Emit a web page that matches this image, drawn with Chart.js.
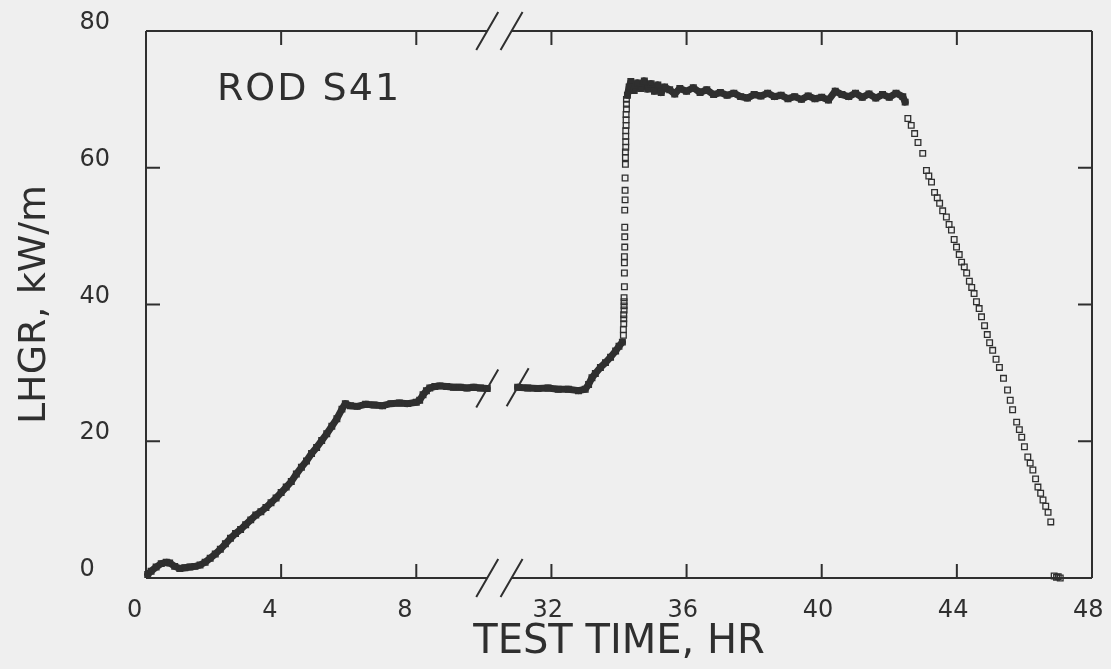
<!DOCTYPE html>
<html>
<head>
<meta charset="utf-8">
<title>ROD S41 - LHGR vs test time</title>
<script src="https://cdn.jsdelivr.net/npm/chart.js@4.4.1/dist/chart.umd.min.js"></script>
<style>
  html, body { margin: 0; padding: 0; background: #efefef; }
  #wrap { width: 1111px; height: 669px; }
</style>
</head>
<body>
<div id="wrap"><canvas id="chart"></canvas></div>
<script>
// Test time (hr) and LHGR (kW/m), segment by segment

// start-up ramp and first hold (before the axis break)
const hrRamp = [0.05, 0.15, 0.3, 0.45, 0.6, 0.7, 0.85, 1.0, 1.15, 1.3, 1.45, 1.6, 1.75, 1.9, 2.05, 2.2, 2.35, 2.5, 2.65, 2.8,
  2.95, 3.1, 3.25, 3.4, 3.55, 3.7, 3.85, 4.0, 4.15, 4.3, 4.45, 4.6, 4.75, 4.9, 5.05, 5.2, 5.35, 5.5, 5.65, 5.8,
  5.9, 6.05, 6.25, 6.5, 6.75, 7.0, 7.25, 7.5, 7.75, 8.0, 8.1, 8.2, 8.3, 8.4, 8.55, 8.7, 8.9, 9.1, 9.3, 9.5,
  9.7, 9.9, 10.1];
const lhgrRamp = [0.5, 1.0, 1.6, 2.1, 2.3, 2.2, 1.7, 1.4, 1.5, 1.6, 1.7, 1.9, 2.3, 2.9, 3.5, 4.2, 5.0, 5.8, 6.5, 7.1,
  7.8, 8.5, 9.2, 9.7, 10.3, 11.0, 11.7, 12.5, 13.3, 14.1, 15.2, 16.2, 17.1, 18.2, 19.1, 20.1, 21.1, 22.2, 23.3, 24.7,
  25.5, 25.2, 25.1, 25.4, 25.3, 25.2, 25.5, 25.6, 25.5, 25.7, 26.0, 26.8, 27.4, 27.8, 28.0, 28.1, 28.0, 27.9, 27.9, 27.8,
  27.9, 27.8, 27.7];

// hold after the break and slow climb
const hrHold = [31.0, 31.3, 31.6, 31.9, 32.2, 32.5, 32.8, 33.0, 33.1, 33.2, 33.3, 33.45, 33.6, 33.75, 33.9, 34.0, 34.1];
const lhgrHold = [27.9, 27.8, 27.7, 27.8, 27.6, 27.6, 27.4, 27.6, 28.3, 29.3, 29.9, 30.8, 31.5, 32.3, 33.2, 33.9, 34.5];

// fast power step
const hrStep = [34.13, 34.13, 34.14, 34.14, 34.14, 34.15, 34.15, 34.15, 34.15, 34.16, 34.16, 34.16, 34.16, 34.17, 34.17, 34.17,
  34.17, 34.18, 34.18, 34.18, 34.19, 34.19, 34.19, 34.2, 34.2, 34.2, 34.2, 34.21, 34.21, 34.21, 34.22, 34.22, 34.22];
const lhgrStep = [35.5, 36.3, 37.2, 37.9, 38.5, 39.2, 39.8, 40.4, 41.0, 42.6, 44.6, 46.1, 47.0, 48.4, 49.9, 51.3,
  53.8, 55.3, 56.7, 58.5, 60.5, 61.5, 62.3, 63.0, 63.8, 64.6, 65.4, 66.2, 67.0, 67.8, 68.6, 69.3, 70.0];

// peak power hold
const hrPeak = [34.25, 34.3, 34.35, 34.45, 34.55, 34.65, 34.75, 34.85, 34.95, 35.05, 35.15, 35.25, 35.35, 35.5, 35.65, 35.8,
  36.0, 36.2, 36.4, 36.6, 36.8, 37.0, 37.2, 37.4, 37.6, 37.8, 38.0, 38.2, 38.4, 38.6, 38.8, 39.0, 39.2, 39.4,
  39.6, 39.8, 40.0, 40.2, 40.4, 40.6, 40.8, 41.0, 41.2, 41.4, 41.6, 41.8, 42.0, 42.2, 42.4, 42.47];
const lhgrPeak = [70.6, 71.8, 72.6, 71.3, 72.4, 71.6, 72.7, 71.5, 72.3, 71.2, 72.1, 71.0, 71.8, 71.4, 70.8, 71.6,
  71.2, 71.7, 71.0, 71.4, 70.7, 71.0, 70.6, 70.9, 70.4, 70.2, 70.7, 70.5, 70.9, 70.4, 70.6, 70.1, 70.4, 70.0,
  70.5, 70.1, 70.3, 69.9, 71.2, 70.7, 70.4, 70.9, 70.3, 70.8, 70.2, 70.7, 70.3, 70.9, 70.4, 69.6];

// power reduction
const hrDown = [42.55, 42.65, 42.75, 42.85, 42.99, 43.1, 43.17, 43.25, 43.34, 43.42, 43.49, 43.58, 43.69, 43.77, 43.84, 43.92,
  43.99, 44.07, 44.14, 44.22, 44.29, 44.37, 44.44, 44.51, 44.58, 44.66, 44.73, 44.82, 44.9, 44.97, 45.06, 45.16,
  45.26, 45.38, 45.5, 45.58, 45.65, 45.77, 45.85, 45.92, 46.0, 46.1, 46.17, 46.25, 46.33, 46.4, 46.48, 46.55,
  46.63, 46.7, 46.78];
const lhgrDown = [67.2, 66.2, 65.0, 63.7, 62.1, 59.6, 58.8, 57.9, 56.4, 55.6, 54.8, 53.7, 52.8, 51.7, 50.9, 49.5,
  48.4, 47.3, 46.2, 45.5, 44.6, 43.4, 42.5, 41.6, 40.4, 39.4, 38.2, 36.9, 35.6, 34.4, 33.3, 32.0,
  30.8, 29.2, 27.5, 26.0, 24.6, 22.8, 21.7, 20.6, 19.2, 17.7, 16.8, 15.8, 14.5, 13.3, 12.4, 11.4,
  10.5, 9.6, 8.2];

// scram
const hrOff = [46.88, 46.95, 47.0, 47.06];
const lhgrOff = [0.3, 0.1, 0.2, 0.0];

const xTickLabels = ['0', '4', '8', '32', '36', '40', '44', '48'];
const yTickLabels = ['0', '20', '40', '60', '80'];

// 10-30 hr is cut out of the time axis
const BREAK_SHIFT = 20;
const INK = '#2f2f2f';
const FONT = "'DejaVu Sans', sans-serif";

function toAxis(h) {
    return h > 20 ? h - BREAK_SHIFT : h;
}

function pts(hrs, vals) {
    return hrs.map((h, i) => ({ x: toAxis(h), y: vals[i] }));
}

function series(hrs, vals, lineWidth) {
    return {
        data: pts(hrs, vals),
        showLine: lineWidth > 0,
        borderColor: INK,
        borderWidth: lineWidth,
        borderJoinStyle: 'round',
        borderCapStyle: 'round',
        pointStyle: 'rect',
        pointRadius: 4,
        pointBorderWidth: 1.3,
        pointBorderColor: INK,
        pointBackgroundColor: 'rgba(0,0,0,0)',
        clip: false
    };
}

// keep the plot box where the original has it, whatever the labels want
function noPad(s) {
    s.paddingLeft = 0;
    s.paddingRight = 0;
    s.paddingTop = 0;
    s.paddingBottom = 0;
}

// box, inward ticks, and the // break marks
const frame = {
    id: 'frame',
    afterDatasetsDraw(chart) {
        const { ctx, chartArea: a, scales: { x, y } } = chart;
        const g1 = x.getPixelForValue(10.1);
        const g2 = x.getPixelForValue(10.82);
        ctx.save();
        ctx.strokeStyle = INK;
        ctx.lineWidth = 2;
        ctx.beginPath();
        ctx.moveTo(a.left, a.top); ctx.lineTo(a.left, a.bottom);
        ctx.moveTo(a.right, a.top); ctx.lineTo(a.right, a.bottom);
        for (const yy of [a.top, a.bottom]) {
            ctx.moveTo(a.left, yy); ctx.lineTo(g1, yy);
            ctx.moveTo(g2, yy); ctx.lineTo(a.right, yy);
        }
        x.ticks.forEach(t => {
            if (t.value <= x.min || t.value >= x.max) return;
            const px = x.getPixelForValue(t.value);
            ctx.moveTo(px, a.bottom); ctx.lineTo(px, a.bottom - 14);
            ctx.moveTo(px, a.top); ctx.lineTo(px, a.top + 14);
        });
        y.ticks.forEach(t => {
            if (t.value <= y.min || t.value >= y.max) return;
            const py = y.getPixelForValue(t.value);
            ctx.moveTo(a.left, py); ctx.lineTo(a.left + 14, py);
            ctx.moveTo(a.right, py); ctx.lineTo(a.right - 14, py);
        });
        ctx.stroke();

        const slash = (cx, cy) => {
            ctx.moveTo(cx - 11, cy + 19);
            ctx.lineTo(cx + 11, cy - 19);
        };
        ctx.beginPath();
        for (const yy of [a.top, a.bottom]) {
            slash(g1, yy);
            slash(g2, yy);
        }
        // on the trace itself, at both ends of the cut
        const last = hrRamp.length - 1;
        slash(x.getPixelForValue(toAxis(hrRamp[last])), y.getPixelForValue(lhgrRamp[last]));
        slash(x.getPixelForValue(toAxis(hrHold[0])), y.getPixelForValue(lhgrHold[0]));
        ctx.stroke();

        ctx.fillStyle = INK;
        ctx.font = '38px ' + FONT;
        ctx.letterSpacing = '2px';
        ctx.textBaseline = 'alphabetic';
        ctx.fillText('ROD S41', x.getPixelForValue(2.1), y.getPixelForValue(69.9));
        ctx.restore();
    }
};

new Chart(document.getElementById('chart').getContext('2d'), {
    type: 'scatter',
    data: {
        datasets: [
            series(hrRamp, lhgrRamp, 7),
            series(hrHold, lhgrHold, 7),
            series(hrStep, lhgrStep, 0),
            series(hrPeak, lhgrPeak, 7),
            series(hrDown, lhgrDown, 0),
            series(hrOff, lhgrOff, 0)
        ]
    },
    options: {
        responsive: true,
        maintainAspectRatio: false,
        animation: false,
        layout: { padding: { top: 31, right: 19, left: 0, bottom: 0 } },
        plugins: {
            legend: { display: false },
            tooltip: { enabled: false }
        },
        scales: {
            x: {
                type: 'linear',
                min: 0,
                max: 28,
                afterFit: s => { s.height = 91; noPad(s); },
                grid: { display: false, drawTicks: false },
                border: { display: false },
                ticks: {
                    stepSize: 4,
                    padding: 18,
                    align: 'start',
                    labelOffset: -19,
                    color: INK,
                    font: { family: FONT, size: 24 },
                    callback: (v, i) => xTickLabels[i]
                },
                title: {
                    display: true,
                    text: 'TEST TIME, HR',
                    color: INK,
                    font: { family: FONT, size: 40 },
                    padding: { top: 0, bottom: 2 }
                }
            },
            y: {
                min: 0,
                max: 80,
                afterFit: s => { s.width = 146; noPad(s); },
                grid: { display: false, drawTicks: false },
                border: { display: false },
                ticks: {
                    stepSize: 20,
                    padding: 36,
                    labelOffset: -8,
                    color: INK,
                    font: { family: FONT, size: 24 },
                    // left-aligned digits as in the original, the lone 0 gets a figure space
                    callback: (v, i) => yTickLabels[i].length === 1 ? yTickLabels[i] + '\u2007' : yTickLabels[i]
                },
                title: {
                    display: true,
                    text: 'LHGR, kW/m',
                    color: INK,
                    font: { family: FONT, size: 38 },
                    padding: { top: 12, bottom: 0 }
                }
            }
        }
    },
    plugins: [frame]
});
</script>
</body>
</html>
